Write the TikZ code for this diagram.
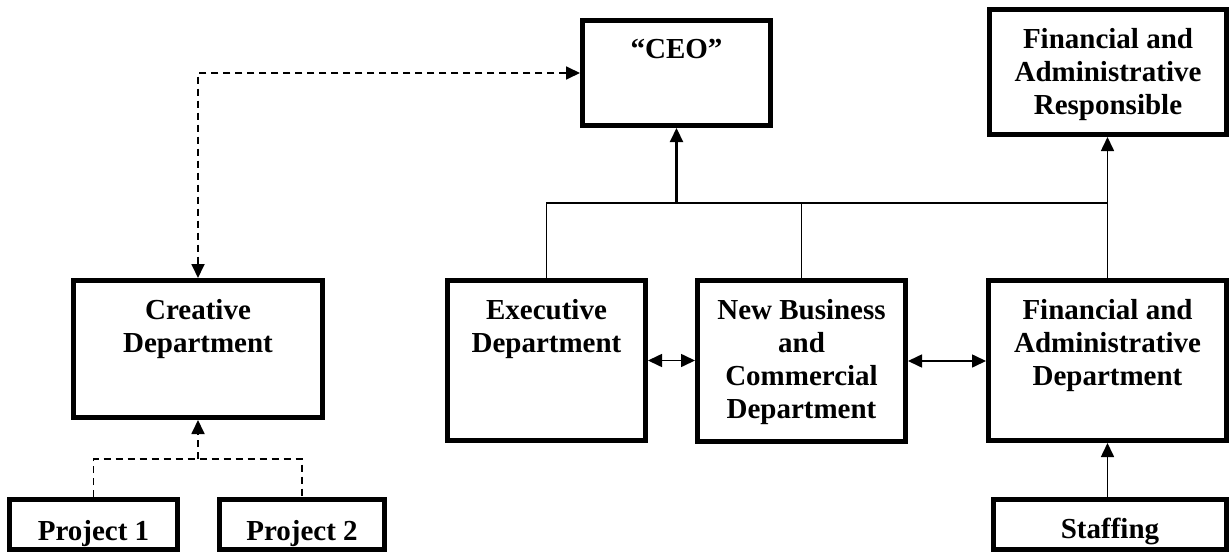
\documentclass[tikz,border=0pt]{standalone}
\usepackage{fontspec}
\setmainfont{Liberation Serif}
\usetikzlibrary{arrows.meta,calc}
\begin{document}
\begin{tikzpicture}[x=1pt,y=-1pt,
  box/.style={draw=black,line width=5pt,rectangle,inner sep=0pt,fill=white},
  txt/.style={inner sep=0pt,align=center,anchor=north,
    font=\fontsize{29}{33}\selectfont\bfseries},
  tip/.style={-{Triangle[length=14pt,width=13pt]}},
  dtip/.style={{Triangle[length=14pt,width=13pt]}-{Triangle[length=14pt,width=13pt]}},
  dsh/.style={line width=1.8pt,dash pattern=on 7pt off 5pt},
  conn/.style={line width=1.6pt}]
\useasboundingbox (0,0) rectangle (1231,554);
% boxes
\node[box,minimum width=188pt,minimum height=105pt] (ceo) at (676.5,73) {};
\node[box,minimum width=237pt,minimum height=125pt] (far) at (1108,72) {};
\node[box,minimum width=249pt,minimum height=137pt] (cre) at (198,349) {};
\node[box,minimum width=198pt,minimum height=160pt] (exe) at (546.5,360.5) {};
\node[box,minimum width=208pt,minimum height=161pt] (nbc) at (801.5,361) {};
\node[box,minimum width=238pt,minimum height=160pt] (fad) at (1107.5,360.5) {};
\node[box,minimum width=168pt,minimum height=50pt] (pa) at (93.5,524.5) {};
\node[box,minimum width=165pt,minimum height=50pt] (pb) at (302,524.5) {};
\node[box,minimum width=233pt,minimum height=50pt] (stf) at (1110,524.5) {};
% texts
\node[txt] (ceoT) at ([yshift=-21pt]ceo.north) {“CEO”};
\node[txt] (farT) at ([yshift=-21pt]far.north) {Financial and\\Administrative\\Responsible};
\node[txt] (creT) at ([yshift=-21pt]cre.north) {Creative\\Department};
\node[txt] (exeT) at ([yshift=-21pt]exe.north) {Executive\\Department};
\node[txt] (nbcT) at ([yshift=-21pt]nbc.north) {New Business\\and\\Commercial\\Department};
\node[txt] (fadT) at ([yshift=-21pt]fad.north) {Financial and\\Administrative\\Department};
\node[txt] (paT) at ([yshift=-23pt]pa.north) {Project 1};
\node[txt] (pbT) at ([yshift=-23pt]pb.north) {Project 2};
\node[txt] (stfT) at ([yshift=-21pt]stf.north) {Staffing};
% coordinates
\coordinate (bus) at (0,203);
\coordinate (pj) at (198,459);
% dashed connectors
\draw[dsh,dtip] (ceo.west) -| (cre.north);
\draw[dsh] (pa.north) |- (pb.north |- pj) -- (pb.north);
\draw[dsh,tip] (pj) -- (cre.south);
% bus
\draw[conn] (exe.north) |- (fad.north |- bus);
\draw[conn] (nbc.north) -- (nbc.north |- bus);
\draw[line width=2.2pt,tip] (ceo.south |- bus) -- (ceo.south);
\draw[conn,tip] (fad.north) -- (fad.north |- far.south);
% horizontal double arrows
\draw[conn,dtip] (exe.east) -- (exe.east -| nbc.west);
\draw[conn,dtip] (nbc.east) -- (nbc.east -| fad.west);
% staffing
\draw[conn,tip] (fad.south |- stf.north) -- (fad.south);
\end{tikzpicture}
\end{document}
